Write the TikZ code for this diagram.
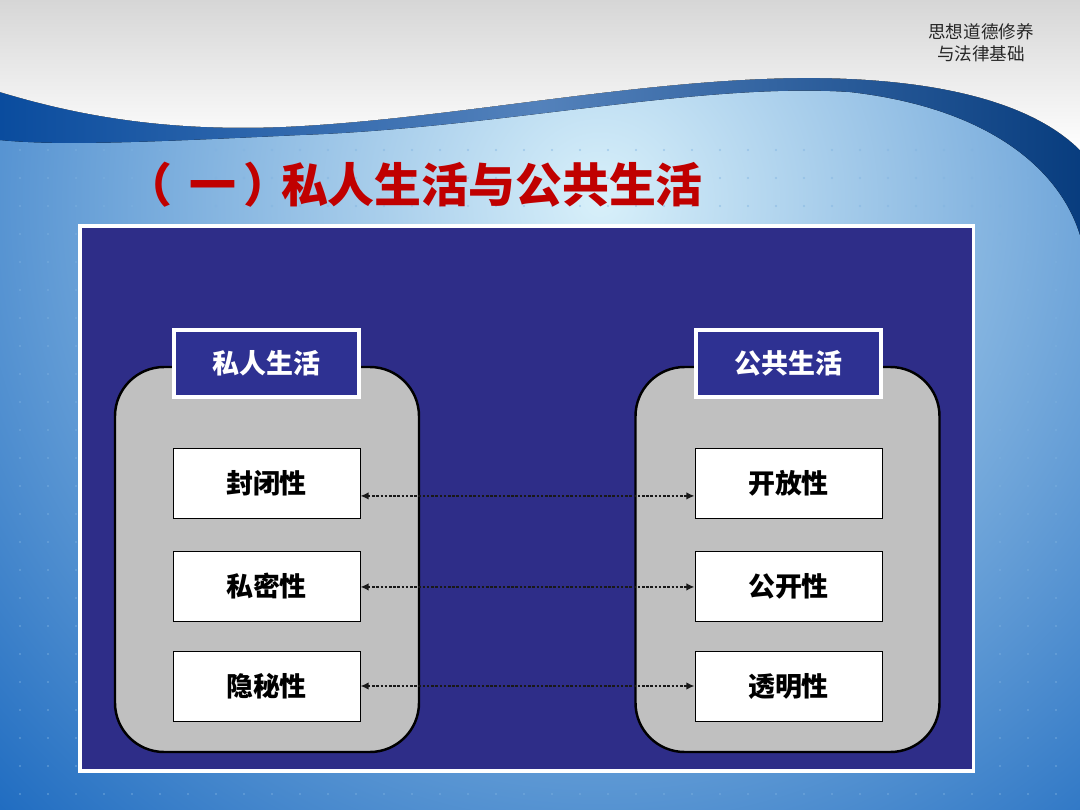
\documentclass[tikz,border=0pt]{standalone}
\usepackage{fontspec}
\newfontfamily\cjk{Noto Sans CJK SC}
\usetikzlibrary{arrows.meta,shadows,calc}
\definecolor{navy}{HTML}{2E2D88}
\definecolor{hdr}{HTML}{2E3192}
\definecolor{ttl}{HTML}{C00000}
\definecolor{cgrey}{HTML}{C0C0C0}
\definecolor{bglight}{HTML}{D8F0FA}
\definecolor{bgdark}{HTML}{1766BE}
\definecolor{wave}{HTML}{0A4C9E}
\definecolor{dotc}{HTML}{7FB2E0}
\begin{document}
\begin{tikzpicture}[x=0.03cm,y=-0.03cm,
  container/.style={draw=black, line width=2.1pt, fill=cgrey, rounded corners=42pt,
    minimum width=9.12cm, minimum height=11.55cm, inner sep=0pt},
  header/.style={draw=white, line width=3.2pt, fill=hdr, text=white,
    minimum width=5.57cm, minimum height=2.03cm, inner sep=0pt,
    font=\cjk\bfseries\fontsize{23}{25}\selectfont,
    drop shadow={opacity=0.35, shadow xshift=1.5pt, shadow yshift=-1.5pt}},
  item/.style={draw=black, line width=0.8pt, fill=white, text=black,
    minimum width=5.61cm, minimum height=2.1cm, inner sep=0pt,
    font=\cjk\bfseries\fontsize{23}{25}\selectfont},
  link/.style={line width=2.2pt, dash pattern=on 2.2pt off 1.4pt, color=black!90,
    {Latex[length=7pt,width=6.5pt]}-{Latex[length=7pt,width=6.5pt]}}
]
\useasboundingbox (0,0) rectangle (1080,810);
% background
\begin{scope}
\clip (0,0) rectangle (1080,810);
\shade[inner color=bglight, outer color=bgdark] (-300,-700) rectangle (1500,1100);
\foreach \x in {20,48,...,1080}
  \foreach \y in {150,178,...,810}
    \fill[dotc, opacity=0.55] (\x,\y) circle[radius=0.9pt];
% dark wave band
\fill[left color=wave, right color=wave!80!black, middle color=wave!70!white]
  (0,92) .. controls (60,110) and (150,132) .. (280,127)
  .. controls (450,120) and (650,76) .. (820,78)
  .. controls (960,80) and (1040,110) .. (1080,150)
  -- (1080,235) .. controls (1060,170) and (990,108) .. (850,92)
  .. controls (700,82) and (500,128) .. (300,135)
  .. controls (150,142) and (60,146) .. (0,140) -- cycle;
% white top region
\fill[top color=black!16, bottom color=white]
  (0,0) -- (1080,0) -- (1080,150)
  .. controls (1040,110) and (960,80) .. (820,78)
  .. controls (650,76) and (450,120) .. (280,127)
  .. controls (150,132) and (60,110) .. (0,92) -- cycle;
\end{scope}
% top-right caption
\node[align=center, text=black!85, font=\cjk\fontsize{15}{19}\selectfont] (course) at (981,43)
  {思想道德修养\\与法律基础};
% title
\node[anchor=west, text=ttl, inner sep=0pt, font=\cjk\bfseries\fontsize{40}{42}\selectfont] (title) at (125,185)
  {（\kern15pt 一\kern6pt ）\kern-8pt 私人生活与公共生活};
% main panel
\node[draw=white, line width=2.6pt, fill=navy, minimum width=26.79cm, minimum height=16.35cm,
  inner sep=0pt, drop shadow={opacity=0.35, shadow xshift=2pt, shadow yshift=-2pt}] (main) at (526.5,498.5) {};
% containers
\node[container] (lc) at (267,559.5) {};
\node[container] (rc) at (787.5,559.5) {};
% headers
\node[header] (lh) at (266.5,363.5) {私人生活};
\node[header] (rh) at (788.5,363.5) {公共生活};
% items
\node[item] (l1) at (266.5,483.5) {封闭性};
\node[item] (l2) at (266.5,586) {私密性};
\node[item] (l3) at (266.5,686) {隐秘性};
\node[item] (r1) at (788.5,483.5) {开放性};
\node[item] (r2) at (788.5,586) {公开性};
\node[item] (r3) at (788.5,686) {透明性};
% links
\draw[link] ([yshift=-10.6pt]l1.east) -- ([yshift=-10.6pt]r1.west);
\draw[link] ([yshift=-0.8pt]l2.east) -- ([yshift=-0.8pt]r2.west);
\draw[link] (l3.east) -- (r3.west);
\end{tikzpicture}
\end{document}
